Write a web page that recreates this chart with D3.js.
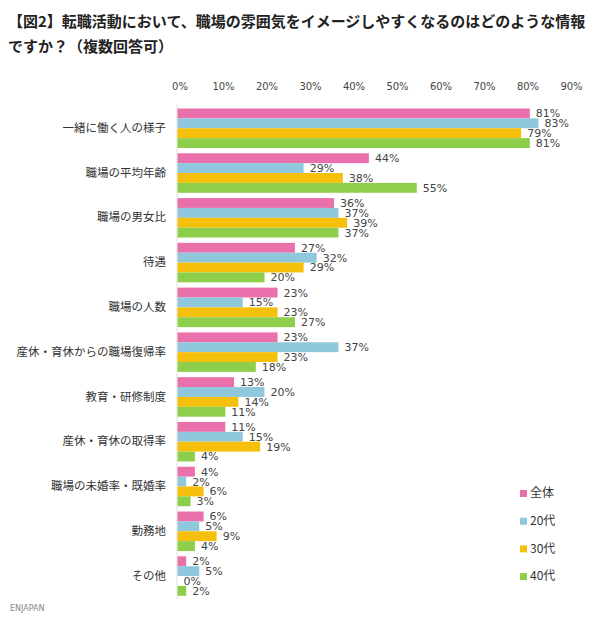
<!DOCTYPE html>
<html><head><meta charset="utf-8">
<script src="https://cdn.jsdelivr.net/npm/d3@7"></script>
<style>body{margin:0;background:#fff;} svg{display:block;}</style>
</head><body>
<script>
const categories = ["一緒に働く人の様子","職場の平均年齢","職場の男女比","待遇","職場の人数","産休・育休からの職場復帰率","教育・研修制度","産休・育休の取得率","職場の未婚率・既婚率","勤務地","その他"];
const seriesNames = ["全体","20代","30代","40代"];
const valAll = [81,44,36,27,23,23,13,11,4,6,2];
const val20 = [83,29,37,32,15,37,20,15,2,5,5];
const val30 = [79,38,39,29,23,23,14,19,6,9,0];
const val40 = [81,55,37,20,27,18,11,4,3,4,2];
const tickValues = [0,10,20,30,40,50,60,70,80,90];
const colors = ["#ea70ab","#8fc7dc","#f6bf0c","#8dcf4b"];
const seriesValues = [valAll,val20,val30,val40];

const W=600,H=625;
const svg=d3.select("body").append("svg").attr("width",W).attr("height",H);
const jp='"Noto Sans CJK JP","Noto Sans",sans-serif';

svg.append("text").attr("x",8).attr("y",27).attr("font-family",jp).attr("font-weight","bold").attr("font-size",15).attr("fill","#222")
  .text("【図2】転職活動において、職場の雰囲気をイメージしやすくなるのはどのような情報");
svg.append("text").attr("x",8).attr("y",52).attr("font-family",jp).attr("font-weight","bold").attr("font-size",15).attr("fill","#222")
  .text("ですか？（複数回答可）");

const x=d3.scaleLinear().domain([0,90]).range([177.5,569]);
const y=d3.scaleBand().domain(categories).range([108.5,595.8]).paddingInner(0.118);
const ys=d3.scaleBand().domain(seriesNames).range([0,y.bandwidth()]);

// axis line
svg.append("line").attr("x1",x(0)-0.5).attr("x2",x(0)-0.5).attr("y1",104).attr("y2",599).attr("stroke","#dde3d8").attr("stroke-width",1);

// ticks
const xAxis=d3.axisTop(x).tickValues(tickValues).tickFormat(d=>d+"%").tickSize(0);
const gx=svg.append("g").attr("transform","translate(2,93)").call(xAxis);
gx.select(".domain").remove();
gx.selectAll("text").attr("font-family","DejaVu Sans, sans-serif").attr("font-size",10).attr("fill","#444");

// category labels
const yAxis=d3.axisLeft(y).tickSize(0).tickPadding(0);
const gy=svg.append("g").attr("transform","translate(166,0)").call(yAxis);
gy.select(".domain").remove();
gy.selectAll("text").attr("font-family",jp).attr("font-size",11.5).attr("fill","#333");

// bars
const groups=svg.selectAll("g.grp").data(categories).join("g").attr("class","grp").attr("transform",d=>`translate(0,${y(d)})`);
seriesNames.forEach((s,si)=>{
  groups.append("rect").attr("x",x(0)).attr("y",ys(s)).attr("height",ys.bandwidth())
    .attr("width",(d,i)=>x(seriesValues[si][i])-x(0)).attr("fill",colors[si]);
});
seriesNames.forEach((s,si)=>{
  groups.append("text").attr("x",(d,i)=>x(seriesValues[si][i])+6).attr("y",ys(s)+ys.bandwidth()/2).attr("dy","0.36em")
    .attr("font-family","DejaVu Sans, sans-serif").attr("font-size",11).attr("fill","#444")
    .text((d,i)=>seriesValues[si][i]+"%");
});

// legend
const lg=svg.append("g").selectAll("g").data(seriesNames).join("g").attr("transform",(d,i)=>`translate(520,${493+i*27.7})`);
lg.append("rect").attr("x",0).attr("y",-3).attr("width",7).attr("height",7).attr("fill",(d,i)=>colors[i]);
lg.append("text").attr("x",10).attr("y",0).attr("dy","0.36em").attr("font-family",jp).attr("font-size",12).attr("fill","#333").text(d=>d);

svg.append("text").attr("x",10).attr("y",611).attr("font-family","DejaVu Sans, sans-serif").attr("font-size",8).attr("fill","#888").text("ENJAPAN");
</script>
</body></html>
